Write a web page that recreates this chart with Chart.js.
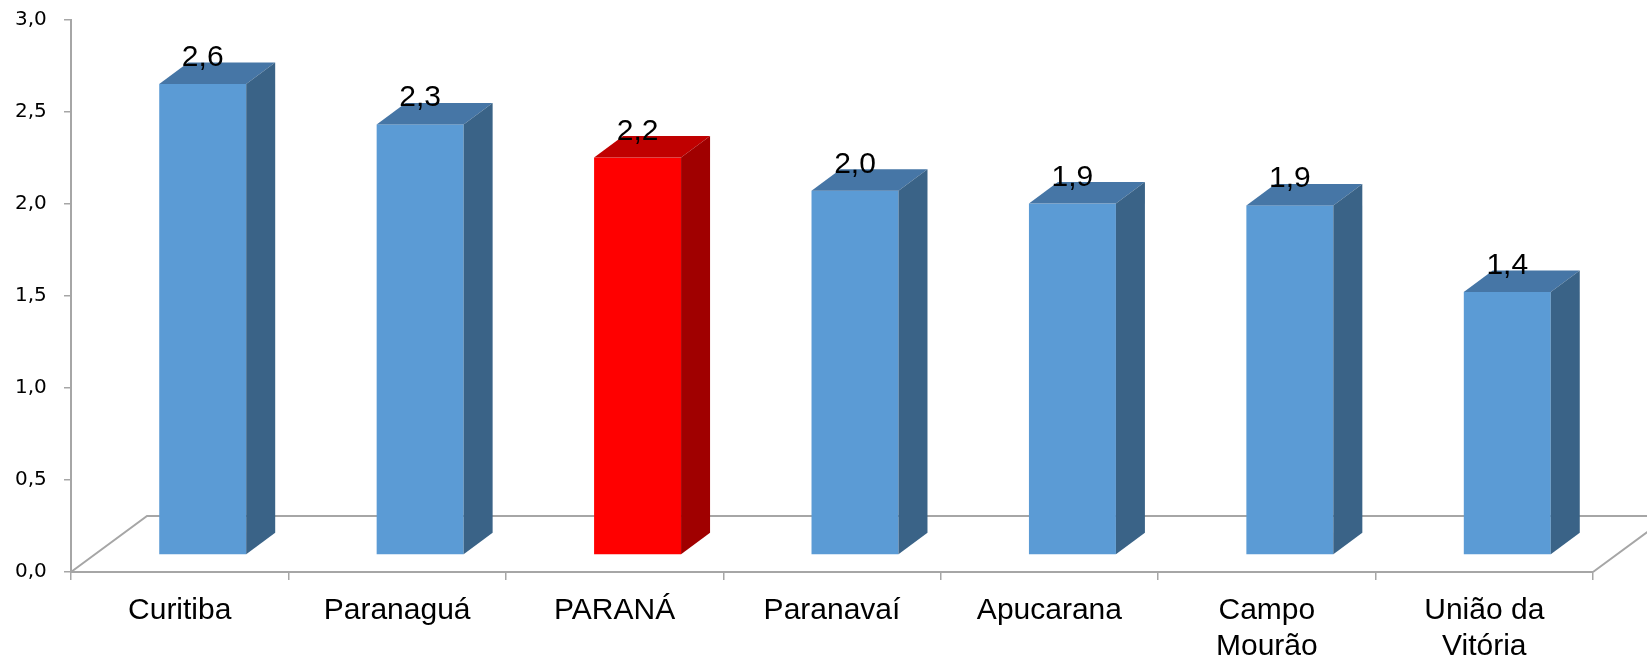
<!DOCTYPE html>
<html>
<head>
<meta charset="utf-8">
<script src="https://cdn.jsdelivr.net/npm/chart.js@4"></script>
<style>
  html, body { margin: 0; padding: 0; background: #fff; }
  #wrap { width: 1647px; height: 660px; }
</style>
</head>
<body>
<div id="wrap"><canvas id="chart"></canvas></div>
<script>
const categories = ['Curitiba', 'Paranaguá', 'PARANÁ', 'Paranavaí', 'Apucarana', ['Campo', 'Mourão'], ['União da', 'Vitória']];
const values = [2.56, 2.34, 2.16, 1.98, 1.91, 1.90, 1.43];
const yTicks = [0, 0.5, 1.0, 1.5, 2.0, 2.5, 3.0];
const highlighted = [2];

const blue = { front: '#5b9bd5', top: '#4676a6', side: '#3a6387' };
const red = { front: '#ff0000', top: '#c00000', side: '#a00000' };
const gridGrey = '#a6a6a6';

// oblique 3d offsets (px)
const floor = { dx: 76, dy: 56 };
const shift = { dx: 23, dy: 17 };
const box = { dx: 29, dy: 21.5 };

const fmt = v => v.toFixed(1).replace('.', ',');

const bars3d = {
  id: 'bars3d',
  beforeDatasetsDraw(chart) {
    const { ctx, chartArea: a } = chart;
    ctx.save();
    ctx.strokeStyle = gridGrey;
    ctx.lineWidth = 2;
    ctx.beginPath();
    ctx.moveTo(a.left, a.bottom);
    ctx.lineTo(a.left + floor.dx, a.bottom - floor.dy);
    ctx.lineTo(a.right + floor.dx, a.bottom - floor.dy);
    ctx.moveTo(a.right, a.bottom);
    ctx.lineTo(a.right + floor.dx, a.bottom - floor.dy);
    ctx.stroke();
    ctx.restore();
  },
  afterDatasetsDraw(chart) {
    const { ctx } = chart;
    const meta = chart.getDatasetMeta(0);
    ctx.save();
    meta.data.forEach((bar, i) => {
      const { x, y, base, width } = bar.getProps(['x', 'y', 'base', 'width'], true);
      const c = highlighted.includes(i) ? red : blue;
      const l = x - width / 2 + shift.dx, r = x + width / 2 + shift.dx;
      const t = y - shift.dy, b = base - shift.dy;

      ctx.fillStyle = c.front;
      ctx.fillRect(l, t, r - l, b - t);

      ctx.fillStyle = c.top;
      ctx.beginPath();
      ctx.moveTo(l, t);
      ctx.lineTo(r, t);
      ctx.lineTo(r + box.dx, t - box.dy);
      ctx.lineTo(l + box.dx, t - box.dy);
      ctx.closePath();
      ctx.fill();

      ctx.fillStyle = c.side;
      ctx.beginPath();
      ctx.moveTo(r, t);
      ctx.lineTo(r + box.dx, t - box.dy);
      ctx.lineTo(r + box.dx, b - box.dy);
      ctx.lineTo(r, b);
      ctx.closePath();
      ctx.fill();

      ctx.fillStyle = '#000';
      ctx.font = '30px "Liberation Sans", Arial, sans-serif';
      ctx.textAlign = 'center';
      ctx.textBaseline = 'alphabetic';
      ctx.fillText(fmt(values[i]), (l + r) / 2, t - 18);
    });
    ctx.restore();
  }
};

new Chart(document.getElementById('chart'), {
  type: 'bar',
  data: {
    labels: categories,
    datasets: [{
      data: values,
      backgroundColor: 'rgba(0,0,0,0)',
      borderWidth: 0,
      categoryPercentage: 1,
      barPercentage: 0.4
    }]
  },
  options: {
    responsive: true,
    maintainAspectRatio: false,
    animation: false,
    layout: { padding: { top: 20, right: 54, left: 15, bottom: 0 } },
    plugins: { legend: { display: false }, tooltip: { enabled: false } },
    scales: {
      x: {
        offset: true,
        grid: { offset: true, drawOnChartArea: false, color: gridGrey, tickLength: 8, lineWidth: 1.5 },
        border: { color: gridGrey, width: 2 },
        ticks: {
          color: '#000',
          padding: 12,
          maxRotation: 0,
          autoSkip: false,
          font: { family: '"Liberation Sans", Arial, sans-serif', size: 30, lineHeight: 1.22 }
        },
        afterFit: s => { s.height = 88; }
      },
      y: {
        min: 0,
        max: 3,
        afterBuildTicks: s => { s.ticks = yTicks.map(v => ({ value: v })); },
        grid: { drawOnChartArea: false, color: gridGrey, tickLength: 7, lineWidth: 1.5 },
        border: { color: gridGrey, width: 2 },
        ticks: {
          color: '#000',
          padding: 0,
          crossAlign: 'far',
          callback: v => fmt(v),
          font: { family: '"DejaVu Sans", Verdana, sans-serif', size: 20 }
        },
        afterFit: s => { s.width = 56; }
      }
    }
  },
  plugins: [bars3d]
});
</script>
</body>
</html>
